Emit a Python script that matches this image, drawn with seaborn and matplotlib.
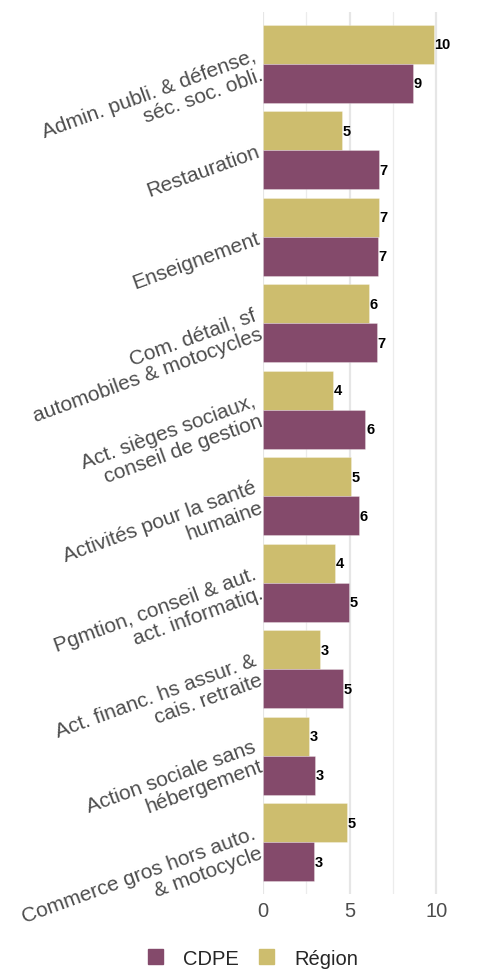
import matplotlib
matplotlib.use("Agg")
import matplotlib.pyplot as plt
import seaborn as sns
import pandas as pd
from matplotlib.patches import Patch

# categories, top to bottom
secteurs = [
    "Admin. publi. & défense,\nséc. soc. obli.",
    "Restauration",
    "Enseignement",
    "Com. détail, sf\nautomobiles & motocycles",
    "Act. sièges sociaux,\nconseil de gestion",
    "Activités pour la santé\nhumaine",
    "Pgmtion, conseil & aut.\nact. informatiq.",
    "Act. financ. hs assur. &\ncais. retraite",
    "Action sociale sans\nhébergement",
    "Commerce gros hors auto.\n& motocycle",
]
region = [9.85, 4.56, 6.68, 6.10, 4.04, 5.06, 4.18, 3.27, 2.63, 4.87]
cdpe = [8.66, 6.69, 6.62, 6.56, 5.91, 5.54, 4.95, 4.60, 3.02, 2.94]

col_region = "#CDBD6E"
col_cdpe = "#844A6B"

df = pd.DataFrame({
    "secteur": secteurs * 2,
    "serie": ["Région"] * len(secteurs) + ["CDPE"] * len(secteurs),
    "valeur": region + cdpe,
})

sns.set_theme(style="white")
plt.rcParams["font.family"] = ["Liberation Sans", "DejaVu Sans"]

fig = plt.figure(figsize=(4.78, 9.70), dpi=100)
ax = fig.add_axes([0.550, 0.0773, 0.381, 0.9093])

sns.barplot(data=df, y="secteur", x="valeur", hue="serie", order=secteurs,
            hue_order=["Région", "CDPE"], palette={"Région": col_region, "CDPE": col_cdpe},
            orient="h", width=0.9, saturation=1, ax=ax, legend=False,
            edgecolor="#ffffff55", linewidth=0.6)

# value labels
for cont in ax.containers:
    ax.bar_label(cont, labels=[f"{v:.0f}" for v in cont.datavalues], padding=0.5,
                 fontsize=10.5, fontweight="bold", color="black")

ax.set_xlim(0, 10.5)
ax.set_ylim(9.6, -0.6)
ax.set_xticks([0, 5, 10])
ax.set_xticks([2.5, 7.5], minor=True)
ax.grid(axis="x", which="major", color="#e6e6e6", linewidth=1.6)
ax.grid(axis="x", which="minor", color="#ececec", linewidth=0.9)
ax.grid(axis="y", visible=False)
ax.set_axisbelow(True)
for s in ax.spines.values():
    s.set_visible(False)
ax.set_xlabel("")
ax.set_ylabel("")
ax.tick_params(axis="x", length=0, labelsize=14.5, labelcolor="#4d4d4d", pad=5)
ax.tick_params(axis="y", length=0, labelsize=15, labelcolor="#4d4d4d", pad=3)
for lab in ax.get_yticklabels():
    lab.set_rotation(20)
    lab.set_ha("right")
    lab.set_va("center")
    lab.set_rotation_mode("anchor")
    lab.set_multialignment("right")
    lab.set_linespacing(1.1)

handles = [Patch(color=col_cdpe, label="CDPE"), Patch(color=col_region, label="Région")]
fig.legend(handles=handles, loc="center", bbox_to_anchor=(0.53, 0.011), ncol=2,
           frameon=False, fontsize=14.5, handlelength=0.75, handleheight=0.75,
           columnspacing=1.0, handletextpad=1.0)

fig.savefig("out.png", dpi=100)
